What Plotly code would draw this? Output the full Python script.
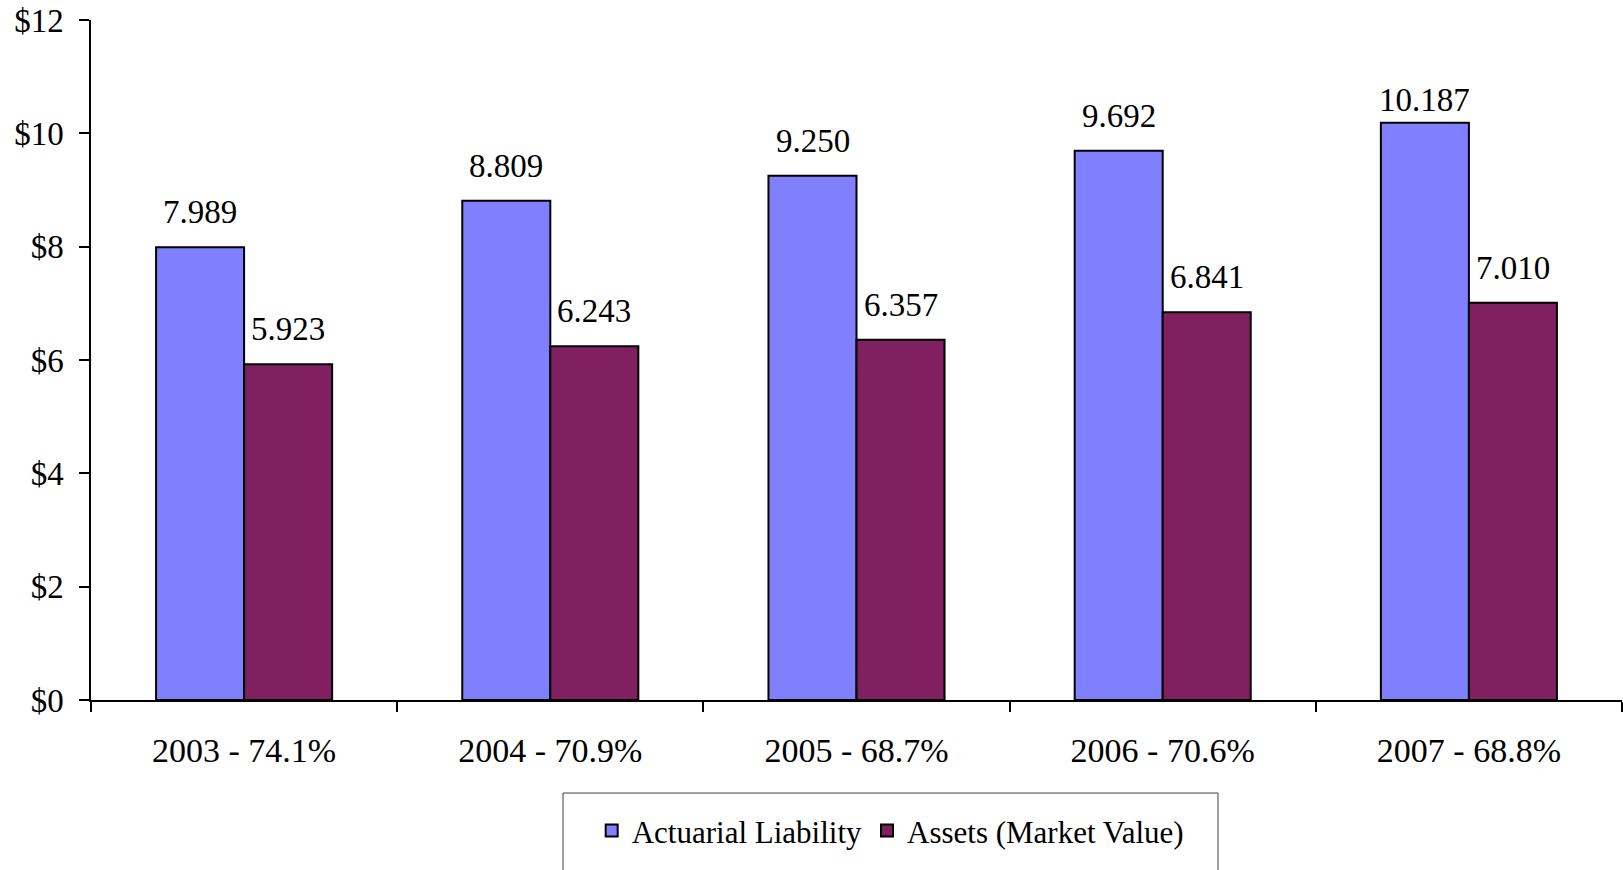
import plotly.graph_objects as go

categories = ["2003 - 74.1%", "2004 - 70.9%", "2005 - 68.7%", "2006 - 70.6%", "2007 - 68.8%"]
liability = [7.989, 8.809, 9.250, 9.692, 10.187]
assets = [5.923, 6.243, 6.357, 6.841, 7.010]
y_ticks = [0, 2, 4, 6, 8, 10, 12]

FONT = "Liberation Serif, Times New Roman, serif"
BAR_HALF = 44       # pixel offset of each bar centre from its category centre
LABEL_GAP = 35      # preferred pixel gap between bar top and label centre
HEIGHT, TOP, BOTTOM = 870, 20, 170
Y_MAX = 12
LABEL_MIN_Y = 100   # label centres are kept below this pixel row (as Excel does)

px_per_unit = (HEIGHT - TOP - BOTTOM) / Y_MAX

fig = go.Figure()
fig.add_trace(go.Bar(
    x=categories, y=liability, name="Actuarial Liability",
    marker=dict(color="#8080FF", line=dict(color="black", width=2)),
))
fig.add_trace(go.Bar(
    x=categories, y=assets, name="Assets (Market Value)",
    marker=dict(color="#802060", line=dict(color="black", width=2)),
))

annotations = []
for series, shift in ((liability, -BAR_HALF), (assets, BAR_HALF)):
    for cat, v in zip(categories, series):
        bar_top_px = HEIGHT - BOTTOM - v * px_per_unit
        gap = min(LABEL_GAP, bar_top_px - LABEL_MIN_Y)
        annotations.append(dict(
            x=cat, y=v, xref="x", yref="y", text=f"{v:.3f}", showarrow=False,
            xshift=shift, yshift=gap, yanchor="middle",
            font=dict(family=FONT, size=33, color="black"),
        ))

fig.update_layout(
    width=1623, height=HEIGHT,
    margin=dict(l=91, r=1, t=TOP, b=BOTTOM, autoexpand=False),
    paper_bgcolor="white", plot_bgcolor="white",
    barmode="group", bargap=0.425, bargroupgap=0,
    font=dict(family=FONT, size=33, color="black"),
    showlegend=True,
    legend=dict(
        orientation="h", x=0.522, xanchor="center", y=-0.1926, yanchor="middle",
        font=dict(family=FONT, size=31, color="black"),
        bgcolor="rgba(0,0,0,0)", borderwidth=0,
    ),
    annotations=annotations,
    shapes=[dict(
        type="rect", xref="paper", yref="paper",
        x0=0.3083, x1=0.7361, y0=-0.1368, y1=-0.27,
        line=dict(color="#404040", width=1), fillcolor="rgba(0,0,0,0)", layer="below",
    )],
)
fig.update_yaxes(
    range=[0, Y_MAX], tickvals=y_ticks, ticktext=[f"${v}" for v in y_ticks],
    automargin=False,
    showgrid=False, zeroline=False, showline=True, linecolor="black", linewidth=1.5,
    ticks="outside", ticklen=10, tickcolor="black", tickwidth=1.5,
    ticklabelstandoff=9,
    tickfont=dict(family=FONT, size=33, color="black"),
)
fig.update_xaxes(
    automargin=False,
    showgrid=False, showline=True, linecolor="black", linewidth=1.5,
    ticks="outside", ticklen=10, tickcolor="black", tickwidth=1.5,
    tickson="boundaries", ticklabelstandoff=19,
    tickfont=dict(family=FONT, size=34, color="black"),
)

fig.write_html(
    "out.html",
    config=dict(displayModeBar=False),
    post_script="document.body.style.margin='0';document.body.style.overflow='hidden';",
)
